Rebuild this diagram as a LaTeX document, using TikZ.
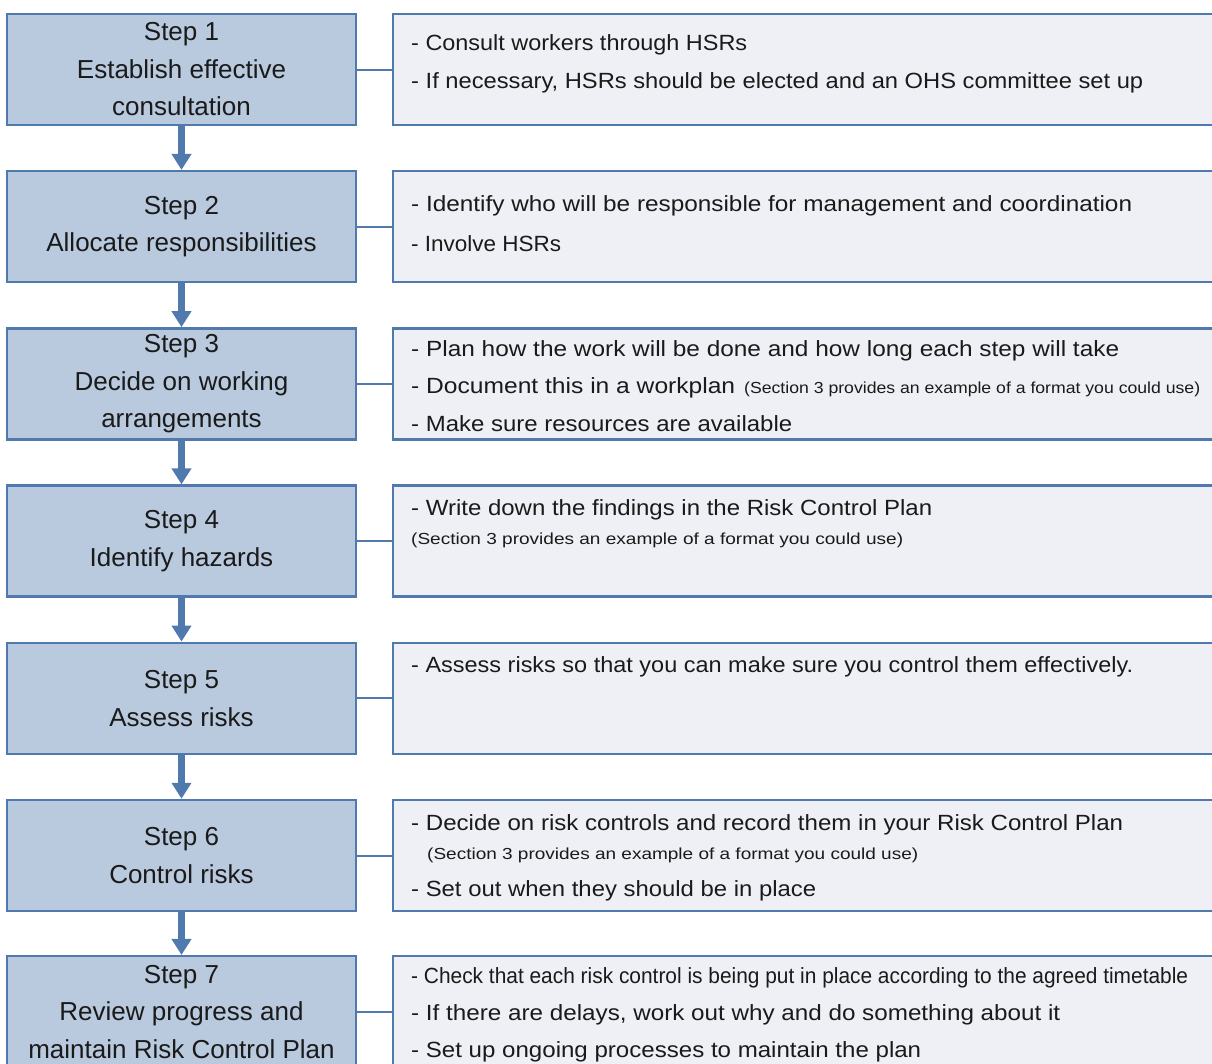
\documentclass[tikz,border=0pt]{standalone}
\usepackage{fontspec}
\setmainfont{Liberation Sans}
\usepackage{graphicx}
\usetikzlibrary{arrows.meta}
\definecolor{bord}{HTML}{5079AD}
\definecolor{lfill}{HTML}{B9CADF}
\definecolor{rfill}{HTML}{EEF0F5}
\definecolor{ink}{HTML}{1A1A1A}
\newcommand\fitw[2]{\resizebox{#1pt}{\height}{#2}}
\begin{document}
\begin{tikzpicture}[x=1pt,y=-1pt,
  stepbox/.style={draw=bord, line width=2.5pt, fill=lfill, minimum width=349pt, minimum height=111pt,
    inner sep=0pt, align=center, text=ink, font=\fontsize{26}{37.5}\selectfont, anchor=north west},
  infobox/.style={draw=bord, line width=2.5pt, fill=rfill, minimum width=860pt, minimum height=111pt,
    inner sep=0pt, anchor=north west},
  txt/.style={anchor=west, inner sep=0pt, text=ink, font=\fontsize{22}{26}\selectfont},
  sml/.style={anchor=west, inner sep=0pt, text=ink, font=\fontsize{16}{20}\selectfont},
  link/.style={draw=bord, line width=2pt},
  flow/.style={draw=bord, line width=6.5pt, -{Triangle[length=16pt,width=19pt]}}]
\useasboundingbox (0,0) rectangle (1212,1063);
\clip (0,0) rectangle (1212,1063);

% left step boxes
\node[stepbox] (s1) at (5.75,12.75) {Step 1\\Establish effective\\consultation};
\node[stepbox] (s2) at (5.75,169.95) {Step 2\\Allocate responsibilities};
\node[stepbox] (s3) at (5.75,327.15) {Step 3\\Decide on working\\arrangements};
\node[stepbox] (s4) at (5.75,484.35) {Step 4\\Identify hazards};
\node[stepbox] (s5) at (5.75,641.55) {Step 5\\Assess risks};
\node[stepbox] (s6) at (5.75,798.75) {Step 6\\Control risks};
\node[stepbox] (s7) at (5.75,954.95) {Step 7\\Review progress and\\maintain Risk Control Plan};

% right info boxes
\node[infobox] (i1) at (391.75,12.75) {};
\node[infobox] (i2) at (391.75,169.95) {};
\node[infobox] (i3) at (391.75,327.15) {};
\node[infobox] (i4) at (391.75,484.35) {};
\node[infobox] (i5) at (391.75,641.55) {};
\node[infobox] (i6) at (391.75,798.75) {};
\node[infobox] (i7) at (391.75,954.95) {};

% links
\foreach \k in {1,...,7}{\draw[link] (s\k.east) -- (s\k.east -| i\k.west);}
% flow arrows
\foreach \a/\b in {1/2,2/3,3/4,4/5,5/6,6/7}{\draw[flow] (s\a.south) -- (s\b.north);}

% texts
\node[txt] (t11) at (411,45) {\fitw{336}{- Consult workers through HSRs}};
\node[txt] (t12) at (411,83) {\fitw{732}{- If necessary, HSRs should be elected and an OHS committee set up}};

\node[txt] (t21) at (411,206) {\fitw{721}{- Identify who will be responsible for management and coordination}};
\node[txt] (t22) at (411,244) {\fitw{150}{- Involve HSRs}};

\node[txt] (t31) at (411,351) {\fitw{708}{- Plan how the work will be done and how long each step will take}};
\node[txt] (t32) at (411,388) {\fitw{324}{- Document this in a workplan}};
\node[sml] (t32b) at (744,389) {\fitw{456}{(Section 3 provides an example of a format you could use)}};
\node[txt] (t33) at (411,424) {\fitw{381}{- Make sure resources are available}};

\node[txt] (t41) at (411,510) {\fitw{521}{- Write down the findings in the Risk Control Plan}};
\node[sml] (t42) at (411,540) {\fitw{492}{(Section 3 provides an example of a format you could use)}};

\node[txt] (t51) at (411,667) {\fitw{722}{- Assess risks so that you can make sure you control them effectively.}};

\node[txt] (t61) at (411,825) {\fitw{712}{- Decide on risk controls and record them in your Risk Control Plan}};
\node[sml] (t62) at (427,855) {\fitw{491}{(Section 3 provides an example of a format you could use)}};
\node[txt] (t63) at (411,891) {\fitw{405}{- Set out when they should be in place}};

\node[txt] (t71) at (411,978) {\fitw{777}{- Check that each risk control is being put in place according to the agreed timetable}};
\node[txt] (t72) at (411,1015) {\fitw{649}{- If there are delays, work out why and do something about it}};
\node[txt] (t73) at (411,1052) {\fitw{510}{- Set up ongoing processes to maintain the plan}};
\end{tikzpicture}
\end{document}
